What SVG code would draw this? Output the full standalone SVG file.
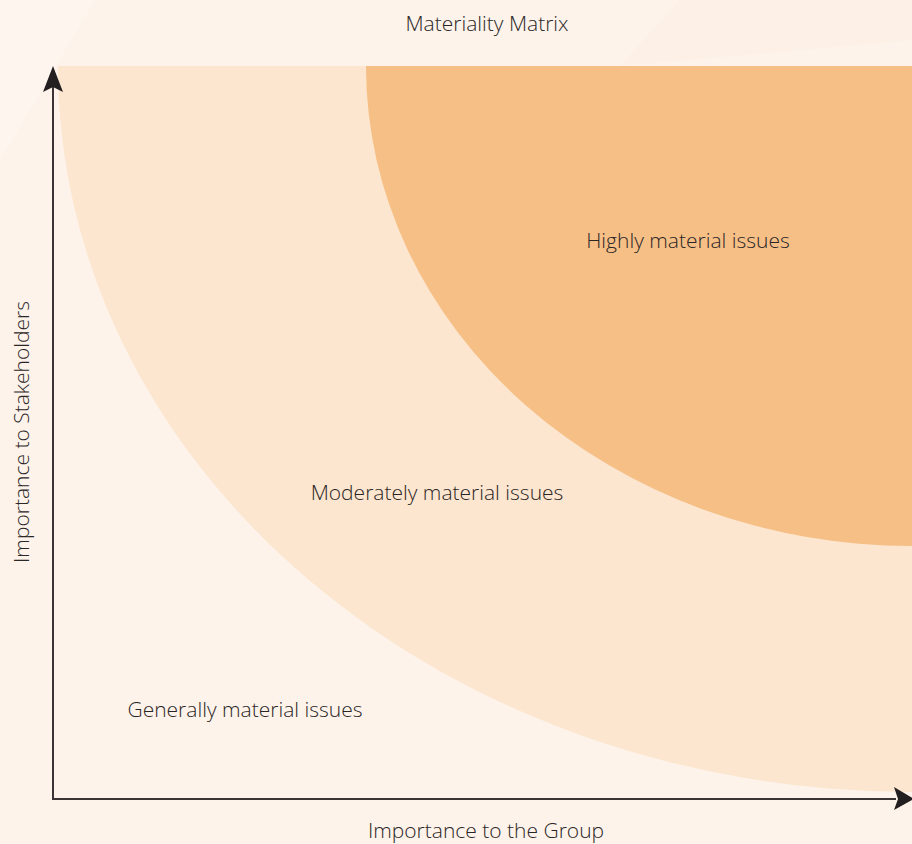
<svg xmlns="http://www.w3.org/2000/svg" width="912" height="844" viewBox="0 0 912 844">
<defs>
<style>
.t{font-family:"Open Sans","Liberation Sans",sans-serif;font-weight:300;fill:#2b2626;font-size:21px}
.ax{stroke:#3a3434;stroke-width:2;fill:none}
.ah{fill:#231f20}
</style>
</defs>
<rect width="912" height="844" fill="#fdf3ea"/>
<polygon points="0,0 95,0 0,160" fill="#fef6ef" opacity="0.8"/>
<polygon points="680,0 912,0 912,40 620,66" fill="#fdefe3" opacity="0.6"/>
<g id="zones">
<g id="generally"><path d="M58,66 A854,726 0 0 0 912,792 L912,66 Z" fill="#fde6cf"/></g>
<g id="highly"><path d="M366,66 A546,480 0 0 0 912,546 L912,66 Z" fill="#f6bf86"/></g>
</g>
<g id="connectors">
<path class="ax" d="M53,799 L53,86"/>
<path class="ax" d="M52,799 L896,799"/>
<path class="ah" d="M53,66 L63,92 L53,87 L43,92 Z"/>
<path class="ah" d="M914,799 L894,787 L898,799 L894,810 Z"/>
</g>
<text class="t" x="487" y="31" text-anchor="middle">Materiality Matrix</text>
<g id="n-highly"><text class="t" x="688" y="248" text-anchor="middle">Highly material issues</text></g>
<g id="n-moderately"><text class="t" x="437" y="500" text-anchor="middle">Moderately material issues</text></g>
<g id="n-generally"><text class="t" x="245" y="717" text-anchor="middle">Generally material issues</text></g>
<text class="t" x="486" y="838" text-anchor="middle">Importance to the Group</text>
<text class="t" transform="translate(29,432) rotate(-90)" text-anchor="middle">Importance to Stakeholders</text>
</svg>
